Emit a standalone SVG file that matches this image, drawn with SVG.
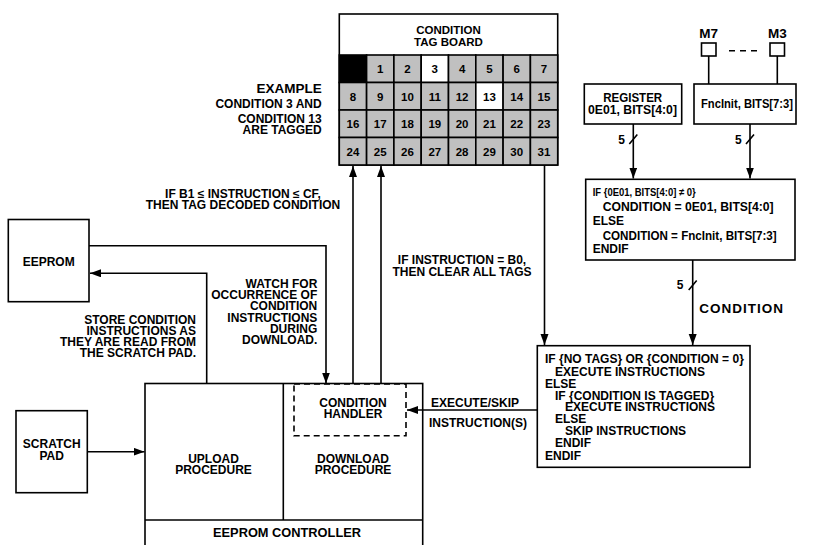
<svg xmlns="http://www.w3.org/2000/svg" width="817" height="545" viewBox="0 0 817 545">
<style>
text{font-family:"Liberation Sans",Arial,sans-serif;font-weight:bold;font-size:12px;fill:#000}
.c{text-anchor:middle}
.r{text-anchor:end}
.s{font-size:11.5px}
.box{fill:#fff;stroke:#000;stroke-width:1.6}
.ln{fill:none;stroke:#000;stroke-width:1.6}
.cell{fill:#c0c0c0;stroke:#000;stroke-width:1.6}
.w{fill:#fff}
.k{fill:#000}
.big{font-size:13.5px}
</style>
<defs>
<marker id="ah" markerUnits="userSpaceOnUse" markerWidth="12" markerHeight="10" refX="11" refY="4" orient="auto">
<path d="M0,0 L11,4 L0,8 Z" fill="#000"/>
</marker>
</defs>
<rect width="817" height="545" fill="#fff"/>

<g id="tagboard">
<rect class="box" x="339.3" y="14" width="218.4" height="151"/>
<text class="c s" x="448.5" y="33.5">CONDITION</text>
<text class="c s" x="448.5" y="46">TAG BOARD</text>
<g id="cells">
<rect class="cell k" x="339.3" y="55" width="27.3" height="27.5"/>
<rect class="cell" x="366.6" y="55" width="27.3" height="27.5"/>
<rect class="cell" x="393.9" y="55" width="27.3" height="27.5"/>
<rect class="cell w" x="421.2" y="55" width="27.3" height="27.5"/>
<rect class="cell" x="448.5" y="55" width="27.3" height="27.5"/>
<rect class="cell" x="475.8" y="55" width="27.3" height="27.5"/>
<rect class="cell" x="503.1" y="55" width="27.3" height="27.5"/>
<rect class="cell" x="530.4" y="55" width="27.3" height="27.5"/>
<rect class="cell" x="339.3" y="82.5" width="27.3" height="27.5"/>
<rect class="cell" x="366.6" y="82.5" width="27.3" height="27.5"/>
<rect class="cell" x="393.9" y="82.5" width="27.3" height="27.5"/>
<rect class="cell" x="421.2" y="82.5" width="27.3" height="27.5"/>
<rect class="cell" x="448.5" y="82.5" width="27.3" height="27.5"/>
<rect class="cell w" x="475.8" y="82.5" width="27.3" height="27.5"/>
<rect class="cell" x="503.1" y="82.5" width="27.3" height="27.5"/>
<rect class="cell" x="530.4" y="82.5" width="27.3" height="27.5"/>
<rect class="cell" x="339.3" y="110" width="27.3" height="27.5"/>
<rect class="cell" x="366.6" y="110" width="27.3" height="27.5"/>
<rect class="cell" x="393.9" y="110" width="27.3" height="27.5"/>
<rect class="cell" x="421.2" y="110" width="27.3" height="27.5"/>
<rect class="cell" x="448.5" y="110" width="27.3" height="27.5"/>
<rect class="cell" x="475.8" y="110" width="27.3" height="27.5"/>
<rect class="cell" x="503.1" y="110" width="27.3" height="27.5"/>
<rect class="cell" x="530.4" y="110" width="27.3" height="27.5"/>
<rect class="cell" x="339.3" y="137.5" width="27.3" height="27.5"/>
<rect class="cell" x="366.6" y="137.5" width="27.3" height="27.5"/>
<rect class="cell" x="393.9" y="137.5" width="27.3" height="27.5"/>
<rect class="cell" x="421.2" y="137.5" width="27.3" height="27.5"/>
<rect class="cell" x="448.5" y="137.5" width="27.3" height="27.5"/>
<rect class="cell" x="475.8" y="137.5" width="27.3" height="27.5"/>
<rect class="cell" x="503.1" y="137.5" width="27.3" height="27.5"/>
<rect class="cell" x="530.4" y="137.5" width="27.3" height="27.5"/>
</g>
<g id="cellnums">
<text class="c s" x="380.2" y="73">1</text><text class="c s" x="407.5" y="73">2</text><text class="c s" x="434.8" y="73">3</text><text class="c s" x="462.1" y="73">4</text><text class="c s" x="489.4" y="73">5</text><text class="c s" x="516.7" y="73">6</text><text class="c s" x="544" y="73">7</text>
<text class="c s" x="352.9" y="100.5">8</text><text class="c s" x="380.2" y="100.5">9</text><text class="c s" x="407.5" y="100.5">10</text><text class="c s" x="434.8" y="100.5">11</text><text class="c s" x="462.1" y="100.5">12</text><text class="c s" x="489.4" y="100.5">13</text><text class="c s" x="516.7" y="100.5">14</text><text class="c s" x="544" y="100.5">15</text>
<text class="c s" x="352.9" y="128">16</text><text class="c s" x="380.2" y="128">17</text><text class="c s" x="407.5" y="128">18</text><text class="c s" x="434.8" y="128">19</text><text class="c s" x="462.1" y="128">20</text><text class="c s" x="489.4" y="128">21</text><text class="c s" x="516.7" y="128">22</text><text class="c s" x="544" y="128">23</text>
<text class="c s" x="352.9" y="155.5">24</text><text class="c s" x="380.2" y="155.5">25</text><text class="c s" x="407.5" y="155.5">26</text><text class="c s" x="434.8" y="155.5">27</text><text class="c s" x="462.1" y="155.5">28</text><text class="c s" x="489.4" y="155.5">29</text><text class="c s" x="516.7" y="155.5">30</text><text class="c s" x="544" y="155.5">31</text>
</g>
</g>

<g id="example">
<text class="r big" x="321.7" y="93">EXAMPLE</text>
<text class="r" x="321.7" y="107.5">CONDITION 3 AND</text>
<text class="r" x="321.7" y="122.5">CONDITION 13</text>
<text class="r" x="321.7" y="134">ARE TAGGED</text>
</g>

<g id="eeprom">
<rect class="box" x="8.3" y="219.5" width="80.7" height="82.2"/>
<text class="c" x="48.7" y="266">EEPROM</text>
</g>

<g id="scratchpad">
<rect class="box" x="16" y="410.7" width="71.3" height="82"/>
<text class="c" x="51.7" y="448">SCRATCH</text>
<text class="c" x="51.7" y="459.5">PAD</text>
</g>

<g id="controller">
<rect class="box" x="145" y="383.5" width="277.7" height="170"/>
<line class="ln" x1="283.3" y1="383.5" x2="283.3" y2="520"/>
<line class="ln" x1="145" y1="520" x2="422.7" y2="520"/>
<text class="c" x="213.5" y="462.5">UPLOAD</text>
<text class="c" x="213.5" y="473.5">PROCEDURE</text>
<text class="c" x="353" y="462.5">DOWNLOAD</text>
<text class="c" x="353" y="473.5">PROCEDURE</text>
<text class="c" x="287" y="536.5" textLength="148" lengthAdjust="spacingAndGlyphs">EEPROM CONTROLLER</text>
</g>

<g id="handler">
<rect x="294" y="384" width="112" height="51.7" fill="none" stroke="#000" stroke-width="1.6" stroke-dasharray="6,4"/>
<text class="c" x="353" y="406.7">CONDITION</text>
<text class="c" x="353" y="418">HANDLER</text>
</g>

<g id="register">
<rect class="box" x="584.3" y="84" width="97.4" height="40"/>
<text class="c" x="632.7" y="101.5" textLength="59" lengthAdjust="spacingAndGlyphs">REGISTER</text>
<text class="c" x="632.5" y="114" textLength="89" lengthAdjust="spacingAndGlyphs">0E01, BITS[4:0]</text>
</g>

<g id="fncinit">
<rect class="box" x="694" y="84" width="102" height="40"/>
<text class="c" x="747" y="107.5" textLength="92" lengthAdjust="spacingAndGlyphs">FncInit, BITS[7:3]</text>
</g>

<g id="m7">
<rect class="box" x="701.5" y="43" width="14.5" height="13"/>
<text class="c big" x="708.7" y="37.5">M7</text>
</g>
<g id="m3">
<rect class="box" x="770" y="43" width="14.5" height="13"/>
<text class="c big" x="777.3" y="37.5">M3</text>
</g>

<g id="condbox">
<rect class="box" x="585.7" y="179.3" width="209.3" height="80.7"/>
<text x="592.7" y="195.5" style="font-size:11px" textLength="103" lengthAdjust="spacingAndGlyphs">IF {0E01, BITS[4:0] ≠ 0}</text>
<text x="602.7" y="210.7" textLength="171" lengthAdjust="spacingAndGlyphs">CONDITION = 0E01, BITS[4:0]</text>
<text x="592.7" y="225">ELSE</text>
<text x="602.7" y="239.7" textLength="174" lengthAdjust="spacingAndGlyphs">CONDITION = FncInit, BITS[7:3]</text>
<text x="592.7" y="253.3">ENDIF</text>
</g>

<g id="decision">
<rect class="box" x="537.3" y="345.7" width="212.7" height="121.6"/>
<text x="545" y="363.3">IF {NO TAGS} OR {CONDITION = 0}</text>
<text x="555" y="375.7">EXECUTE INSTRUCTIONS</text>
<text x="545" y="387.5">ELSE</text>
<text x="555" y="399.7">IF {CONDITION IS TAGGED}</text>
<text x="565" y="411.3">EXECUTE INSTRUCTIONS</text>
<text x="555" y="423.3">ELSE</text>
<text x="565" y="435">SKIP INSTRUCTIONS</text>
<text x="555" y="447.3">ENDIF</text>
<text x="545" y="459.7">ENDIF</text>
</g>

<g id="connectors">
<path class="ln" d="M353,383.5 V166" marker-end="url(#ah)"/>
<path class="ln" d="M381,383.5 V166" marker-end="url(#ah)"/>
<path class="ln" d="M544.5,165 V345" marker-end="url(#ah)"/>
<path class="ln" d="M89,245.7 H326 V383.5" marker-end="url(#ah)"/>
<path class="ln" d="M206.7,383.5 V273.3 H90" marker-end="url(#ah)"/>
<path class="ln" d="M87.3,451.7 H144.5" marker-end="url(#ah)"/>
<path class="ln" d="M537.3,410 H407" marker-end="url(#ah)"/>
<path class="ln" d="M692.7,260 V345" marker-end="url(#ah)"/>
<path class="ln" d="M633.3,124 V178.5" marker-end="url(#ah)"/>
<path class="ln" d="M750,124 V178.5" marker-end="url(#ah)"/>
<path class="ln" d="M708.7,56 V84 M777.3,56 V84"/>
<path class="ln" d="M729,50.7 H757" stroke-dasharray="6,5"/>
<path class="ln" d="M629.3,144 L637.3,134.5 M746,144 L754,134.5 M688.7,290 L696.7,280.5"/>
<text x="621.7" y="143.5" class="c">5</text>
<text x="738.3" y="143.5" class="c">5</text>
<text x="680" y="289" class="c">5</text>
<text x="699.3" y="313" class="big" style="letter-spacing:1px">CONDITION</text>
<text class="c" x="243" y="198">IF B1 ≤ INSTRUCTION ≤ CF,</text>
<text class="c" x="243" y="208.5">THEN TAG DECODED CONDITION</text>
<text class="c" x="462" y="264">IF INSTRUCTION = B0,</text>
<text class="c" x="462" y="276">THEN CLEAR ALL TAGS</text>
<text class="c" x="475" y="407">EXECUTE/SKIP</text>
<text class="c" x="478" y="427">INSTRUCTION(S)</text>
<text class="r" x="317.3" y="287.5">WATCH FOR</text>
<text class="r" x="317.3" y="298.5">OCCURRENCE OF</text>
<text class="r" x="317.3" y="310">CONDITION</text>
<text class="r" x="317.3" y="321.5">INSTRUCTIONS</text>
<text class="r" x="317.3" y="333">DURING</text>
<text class="r" x="317.3" y="344">DOWNLOAD.</text>
<text class="r" x="196" y="324">STORE CONDITION</text>
<text class="r" x="196" y="335">INSTRUCTIONS AS</text>
<text class="r" x="196" y="346">THEY ARE READ FROM</text>
<text class="r" x="196" y="357">THE SCRATCH PAD.</text>
</g>
</svg>
